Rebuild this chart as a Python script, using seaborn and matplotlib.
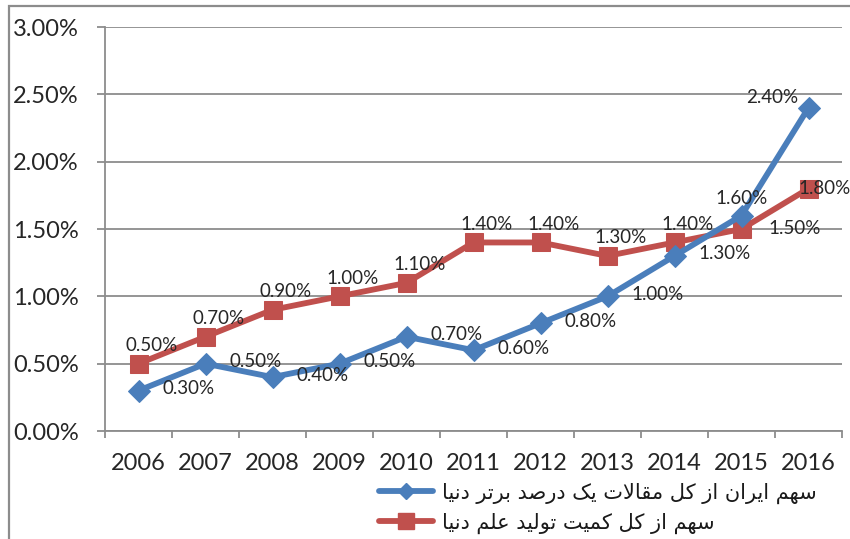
import matplotlib
matplotlib.use("Agg")
import matplotlib.pyplot as plt
import seaborn as sns
import pandas as pd
from matplotlib.patches import Rectangle
from matplotlib.lines import Line2D
from matplotlib.ticker import FixedLocator

# ---------------- data ----------------
years = ["2006", "2007", "2008", "2009", "2010", "2011", "2012", "2013", "2014", "2015", "2016"]
share_top1 = [0.30, 0.50, 0.40, 0.50, 0.70, 0.60, 0.80, 1.00, 1.30, 1.60, 2.40]   # blue (%)
share_total = [0.50, 0.70, 0.90, 1.00, 1.10, 1.40, 1.40, 1.30, 1.40, 1.50, 1.80]  # red (%)
label_top1 = "سهم ایران از کل مقالات یک درصد برتر دنیا"
label_total = "سهم از کل کمیت تولید علم دنیا"
yticks = [0.0, 0.5, 1.0, 1.5, 2.0, 2.5, 3.0]

BLUE = "#4A7EBB"
RED = "#C0504D"
GRID = "#8C8C8C"

# ---------------- simple Arabic/Persian shaping ----------------
FORMS = {
    'ا': ('\uFE8D', '\uFE8E', None, None),
    'ب': ('\uFE8F', '\uFE90', '\uFE91', '\uFE92'),
    'ت': ('\uFE95', '\uFE96', '\uFE97', '\uFE98'),
    'د': ('\uFEA9', '\uFEAA', None, None),
    'ر': ('\uFEAD', '\uFEAE', None, None),
    'ز': ('\uFEAF', '\uFEB0', None, None),
    'س': ('\uFEB1', '\uFEB2', '\uFEB3', '\uFEB4'),
    'ص': ('\uFEB9', '\uFEBA', '\uFEBB', '\uFEBC'),
    'ع': ('\uFEC9', '\uFECA', '\uFECB', '\uFECC'),
    'ق': ('\uFED5', '\uFED6', '\uFED7', '\uFED8'),
    'ل': ('\uFEDD', '\uFEDE', '\uFEDF', '\uFEE0'),
    'م': ('\uFEE1', '\uFEE2', '\uFEE3', '\uFEE4'),
    'ن': ('\uFEE5', '\uFEE6', '\uFEE7', '\uFEE8'),
    'ه': ('\uFEE9', '\uFEEA', '\uFEEB', '\uFEEC'),
    'و': ('\uFEED', '\uFEEE', None, None),
    'ی': ('\uFBFC', '\uFBFD', '\uFBFE', '\uFBFF'),
    'ک': ('\uFB8E', '\uFB8F', '\uFB90', '\uFB91'),
}


def shape(text):
    chars = list(text)
    n = len(chars)

    def dual(c):
        return c in FORMS and FORMS[c][2] is not None

    res = []
    i = 0
    while i < n:
        c = chars[i]
        if c not in FORMS:
            res.append(c)
            i += 1
            continue
        prev_conn = i > 0 and dual(chars[i - 1])
        if c == 'ل' and i + 1 < n and chars[i + 1] == 'ا':
            res.append('\uFEFC' if prev_conn else '\uFEFB')
            i += 2
            continue
        nxt = chars[i + 1] if i + 1 < n else None
        next_conn = dual(c) and nxt in FORMS
        iso, fin, ini, med = FORMS[c]
        if prev_conn and next_conn:
            g = med
        elif prev_conn:
            g = fin
        elif next_conn:
            g = ini
        else:
            g = iso
        res.append(g)
        i += 1
    return ''.join(reversed(res))


# ---------------- figure ----------------
sns.set_theme(style="white")
plt.rcParams['font.family'] = ['Lato', 'DejaVu Sans']

fig = plt.figure(figsize=(8.5, 5.39), dpi=100)
ax = fig.add_axes([105 / 850, 1 - 431 / 539, (842 - 105) / 850, (431 - 27) / 539])

df = pd.DataFrame({
    "year": years * 2,
    "value": share_top1 + share_total,
    "series": ["top1"] * len(years) + ["total"] * len(years),
})

sns.lineplot(data=df[df.series == "top1"], x="year", y="value", ax=ax, color=BLUE,
             linewidth=4.2, marker="D", markersize=11, markeredgecolor=BLUE,
             sort=False, zorder=4)
sns.lineplot(data=df[df.series == "total"], x="year", y="value", ax=ax, color=RED,
             linewidth=4.2, marker="s", markersize=13, markeredgecolor=RED,
             sort=False, zorder=3)

ax.set_xlim(-0.5, len(years) - 0.5)
ax.set_ylim(0, 3.0)
ax.set_yticks(yticks)
ax.set_yticklabels([f"{v:.2f}%" for v in yticks])
ax.set_xlabel("")
ax.set_ylabel("")
if ax.get_legend():
    ax.get_legend().remove()

ax.grid(axis="y", color=GRID, linewidth=1.3)
ax.grid(axis="x", visible=False)
ax.set_axisbelow(True)
for s in ["top", "right"]:
    ax.spines[s].set_visible(False)
for s in ["left", "bottom"]:
    ax.spines[s].set_color(GRID)
    ax.spines[s].set_linewidth(1.3)

ax.tick_params(axis="y", which="major", left=True, length=6, width=1.3, color=GRID,
               pad=13, labelsize=17, labelcolor="#262626")
ax.tick_params(axis="x", which="major", bottom=False, length=0, pad=16,
               labelsize=17, labelcolor="#262626")
ax.xaxis.set_minor_locator(FixedLocator([i - 0.5 for i in range(len(years) + 1)]))
ax.tick_params(axis="x", which="minor", bottom=True, length=5, width=1.3, color=GRID,
               direction="out")

# ---------------- data labels ----------------
PX = 0.72  # px -> points at 100 dpi
blue_off = [(24, -2, "left")] * 9 + [(0, -17, "center"), (-10, -10, "right")]
red_off = [(13, -18, "center")] * 9 + [(27, 0, "left"), (-10, 0, "left")]
for i, (v, (dx, dy, ha)) in enumerate(zip(share_top1, blue_off)):
    ax.annotate(f"{v:.2f}%", (i, v), xytext=(dx * PX, -dy * PX), textcoords="offset points",
                ha=ha, va="center", fontsize=13.5, color="#262626", zorder=6,
                annotation_clip=False)
for i, (v, (dx, dy, ha)) in enumerate(zip(share_total, red_off)):
    ax.annotate(f"{v:.2f}%", (i, v), xytext=(dx * PX, -dy * PX), textcoords="offset points",
                ha=ha, va="center", fontsize=13.5, color="#262626", zorder=6,
                annotation_clip=False)

# ---------------- legend ----------------
handles = [
    Line2D([0], [0], color=BLUE, linewidth=4.2, marker="D", markersize=8,
           solid_capstyle="round"),
    Line2D([0], [0], color=RED, linewidth=4.2, marker="s", markersize=11,
           solid_capstyle="round"),
]
leg = fig.legend(handles, [shape(label_top1), shape(label_total)],
                 loc="upper left", bbox_to_anchor=(360 / 850, 1 - 464 / 539),
                 frameon=False, handlelength=2.6, handletextpad=0.45,
                 labelspacing=0.42, prop={"family": ["DejaVu Sans"], "size": 15})
for t in leg.get_texts():
    t.set_color("#1a1a1a")

# ---------------- outer chart border ----------------
fig.add_artist(Rectangle((9 / 850, -0.2), 1.2, 1 - 6 / 539 + 0.2, transform=fig.transFigure,
                         fill=False, edgecolor="#8C8C8C", linewidth=1.6, clip_on=False))

fig.savefig("out.png", dpi=100)
